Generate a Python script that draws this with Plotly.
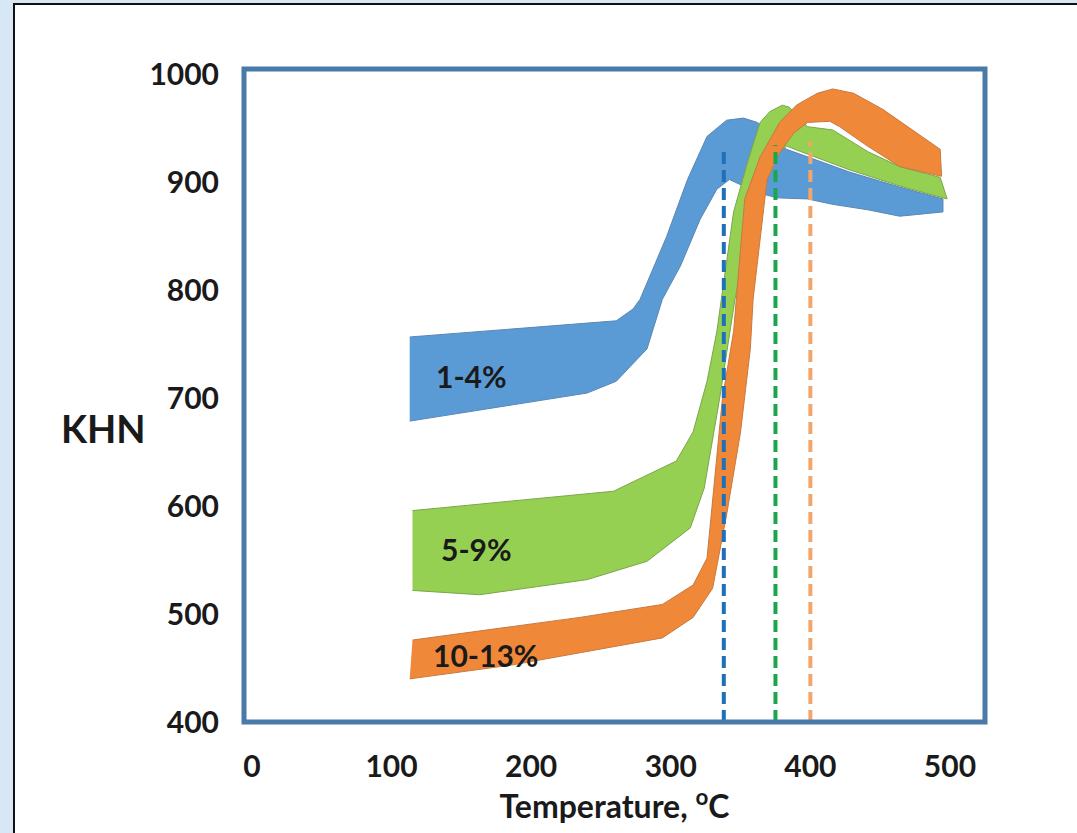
import plotly.graph_objects as go

# Knoop hardness bands vs. annealing temperature, by alloy content
blue_upper_x = [113, 261, 273, 278, 297, 312, 326, 340, 352, 362, 383, 428, 464, 495]
blue_upper_y = [757, 772, 783, 792, 850, 903, 943, 958, 960, 956, 931, 910, 896, 885]
blue_lower_x = [113, 240, 261, 283, 294, 307, 321, 333, 342, 362, 376, 398, 416, 441, 464, 495]
blue_lower_y = [679, 705, 716, 746, 792, 823, 866, 894, 903, 891, 886, 885, 880, 875, 869, 873]

green_upper_x = [115, 259, 304, 316, 326, 333, 345, 355, 364, 371, 380, 385, 398, 416, 441, 464, 493]
green_upper_y = [596, 614, 642, 669, 716, 762, 873, 919, 956, 966, 972, 970, 952, 949, 929, 915, 905]
green_lower_x = [115, 163, 240, 283, 314, 324, 335, 346, 357, 371, 383, 393, 428, 464, 498]
green_lower_y = [522, 518, 532, 549, 580, 617, 700, 792, 866, 922, 934, 929, 912, 897, 885]

orange_upper_x = [115, 235, 294, 316, 326, 330, 337, 345, 353, 364, 378, 390, 405, 416, 431, 452, 476, 493]
orange_upper_y = [476, 497, 509, 527, 552, 608, 700, 762, 885, 924, 956, 972, 983, 987, 983, 968, 946, 931]
orange_lower_x = [113, 187, 294, 316, 330, 340, 350, 357, 359, 369, 378, 388, 398, 414, 421, 441, 464, 494]
orange_lower_y = [440, 453, 478, 497, 524, 592, 669, 746, 792, 903, 928, 946, 956, 957, 952, 934, 915, 906]

band_names = ["1-4%", "5-9%", "10-13%"]
band_label_x = [157, 161, 167]
band_label_y = [721, 560, 462]

# peak-hardness temperatures, one per band
peak_temp = [338, 375, 400]
peak_top = [933, 935, 938]

x_ticks = [0, 100, 200, 300, 400, 500]
y_ticks = [400, 500, 600, 700, 800, 900, 1000]

fill_colors = ["#5b9bd5", "#95d052", "#f0883a"]
edge_colors = ["#5a86b4", "#7aa64a", "#c8793f"]
dash_colors = ["#1f70b8", "#1aa64b", "#f4a56a"]

bands = [
    (blue_upper_x, blue_upper_y, blue_lower_x, blue_lower_y),
    (green_upper_x, green_upper_y, green_lower_x, green_lower_y),
    (orange_upper_x, orange_upper_y, orange_lower_x, orange_lower_y),
]

Y_MIN, Y_MAX = 400, 1005.5

fig = go.Figure()

for (ux, uy, lx, ly), fc, ec, name in zip(bands, fill_colors, edge_colors, band_names):
    fig.add_trace(go.Scatter(
        x=ux + lx[::-1], y=uy + ly[::-1],
        fill="toself", fillcolor=fc, mode="lines",
        line=dict(color=ec, width=1), name=name, hoverinfo="skip",
    ))

for t, top, c in zip(peak_temp, peak_top, dash_colors):
    fig.add_trace(go.Scatter(
        x=[t, t], y=[Y_MIN, top], mode="lines",
        line=dict(color=c, width=4, dash="12px,6px"), hoverinfo="skip",
    ))

for name, lx, ly in zip(band_names, band_label_x, band_label_y):
    fig.add_annotation(
        x=lx, y=ly, text=name, showarrow=False,
        font=dict(family="Lato", size=30, color="#1a1a1a", weight="bold"),
    )

L, R, T, B = 244, 985, 69, 722
W, H = 1077, 833

def px_x(p):
    return (p - L) / (R - L)

def px_y(p):
    return (B - p) / (B - T)

shapes = [
    # white panel with a black border on the light blue page
    dict(type="rect", xref="paper", yref="paper", layer="below",
         x0=px_x(14), x1=px_x(1090), y0=px_y(845), y1=px_y(4),
         fillcolor="white", line=dict(color="#111111", width=2)),
    # plot frame
    dict(type="rect", xref="paper", yref="paper", layer="above",
         x0=0, x1=1, y0=0, y1=1,
         line=dict(color="#4a7aa7", width=5)),
]

fig.add_annotation(
    xref="paper", yref="paper", x=px_x(103), y=px_y(428),
    xanchor="center", yanchor="middle",
    text="KHN", showarrow=False,
    font=dict(family="Lato", size=38, color="#1a1a1a", weight="bold"),
)

tick_font = dict(family="Lato", size=30, color="#1a1a1a", weight="bold")

fig.update_layout(
    width=W, height=H,
    margin=dict(l=L, r=W - R, t=T, b=H - B, pad=0),
    paper_bgcolor="#d8e7f6",
    plot_bgcolor="rgba(0,0,0,0)",
    showlegend=False,
    shapes=shapes,
    xaxis=dict(
        range=[-5.7, 525.1], tickvals=x_ticks, showgrid=False, zeroline=False,
        showline=False, ticks="outside", ticklen=18, tickcolor="rgba(0,0,0,0)",
        tickfont=tick_font,
        title=dict(text="Temperature, <sup>o</sup>C", standoff=8,
                   font=dict(family="Lato", size=32, color="#1a1a1a", weight="bold")),
    ),
    yaxis=dict(
        range=[Y_MIN, Y_MAX], tickvals=y_ticks, showgrid=False, zeroline=False,
        showline=False, ticks="outside", ticklen=18, tickcolor="rgba(0,0,0,0)",
        tickfont=tick_font,
    ),
)

fig.write_html("out.html")
